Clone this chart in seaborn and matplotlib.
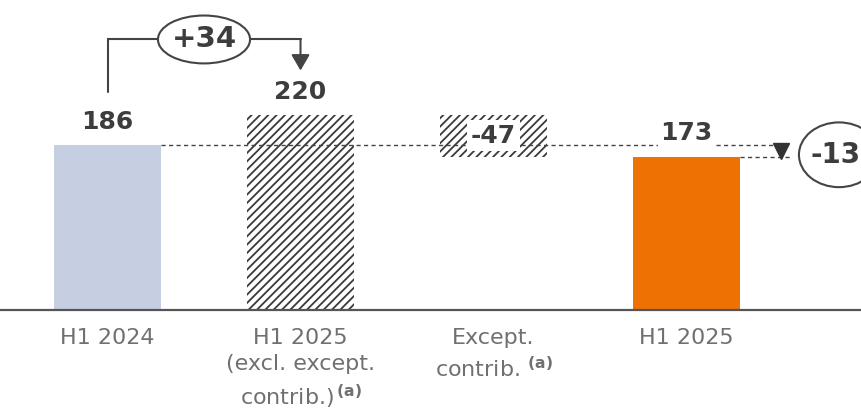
import matplotlib
matplotlib.use("Agg")
import matplotlib.pyplot as plt
import seaborn as sns
import pandas as pd
from matplotlib.patches import Ellipse

# --- data -------------------------------------------------------------
categories = ["H1 2024", "H1 2025 excl.", "Except. contrib.", "H1 2025"]
tick_labels = [
    "H1 2024",
    "H1 2025\n(excl. except.\ncontrib.)$^{\\,\\mathbf{(a)}}$",
    "Except.\ncontrib. $^{\\mathbf{(a)}}$",
    "H1 2025",
]
values = [186, 220, -47, 173]
bar_colors = ["#c5cfe1", "white", "white", "#ee7203"]
hatched = [False, True, True, False]

# floating bar for the exceptional contribution: hangs down from the 220 level
bottoms = [0, 0, values[1] + values[2], 0]
heights = [abs(v) for v in values]
change_vs_prior = values[1] - values[0]      # +34
change_total = values[3] - values[0]         # -13

df = pd.DataFrame({"cat": categories, "height": heights})

# --- style ------------------------------------------------------------
sns.set_theme(style="white")
plt.rcParams["font.family"] = ["DejaVu Sans"]
plt.rcParams["hatch.linewidth"] = 1.3
DARK = "#3d3d3d"
LINE = "#444444"

fig = plt.figure(figsize=(8.61, 4.13), dpi=100)
ax = fig.add_axes([0, 0.2494, 1, 0.7506])

sns.barplot(data=df, x="cat", y="height", hue="cat", palette=bar_colors,
            width=0.555, legend=False, saturation=1, linewidth=0, ax=ax,
            zorder=2)

for patch, b, h in zip(ax.patches, bottoms, hatched):
    patch.set_y(b)
    if h:
        patch.set_hatch("////")
        patch.set_edgecolor("#3a3a3a")
        patch.set_linewidth(0)

ax.set_xlim(-0.557, 3.904)
ax.set_ylim(0, 349.5)
ax.set_xlabel("")
ax.set_ylabel("")
ax.set_yticks([])
ax.set_xticks(range(len(categories)))
ax.set_xticklabels(tick_labels, fontsize=16, color="#707070")
for lbl in ax.get_xticklabels():
    lbl.set_linespacing(1.38)
ax.tick_params(axis="x", length=0, pad=13)
for s in ["top", "left", "right"]:
    ax.spines[s].set_visible(False)
ax.spines["bottom"].set_color("#555555")
ax.spines["bottom"].set_linewidth(1.6)

# --- reference dashed lines -------------------------------------------
half = 0.555 / 2
dash = (0, (3, 2.4))
x_end = 3.536
ax.plot([0 + half, x_end], [values[0], values[0]], color=LINE, lw=1,
        ls=dash, zorder=3)
ax.plot([3 + half, x_end], [values[3], values[3]], color=LINE, lw=1,
        ls=dash, zorder=3)

# --- value labels -----------------------------------------------------
for i in (0, 1, 3):
    top = bottoms[i] + heights[i]
    kw = {}
    if i == 3:
        kw["bbox"] = dict(boxstyle="square,pad=0.1", fc="white", ec="none")
    ax.annotate(f"{values[i]}", xy=(i, top), xytext=(0, 8),
                textcoords="offset points", ha="center", va="bottom",
                fontsize=18, fontweight="bold", color=DARK, zorder=5, **kw)

ax.text(2, bottoms[2] + heights[2] / 2, f"{values[2]:d}",
        ha="center", va="center", fontsize=18, fontweight="bold", color=DARK,
        zorder=5,
        bbox=dict(boxstyle="square,pad=0.15", fc="white", ec="none"))

# --- +34 bracket ------------------------------------------------------
bracket_y = 305
ax.plot([0, 0, 1], [246, bracket_y, bracket_y], color=LINE, lw=1.5,
        zorder=3, solid_joinstyle="miter")
ax.annotate("", xy=(1, 270), xytext=(1, bracket_y),
            arrowprops=dict(arrowstyle="-|>,head_length=0.6,head_width=0.35",
                            mutation_scale=16, color=LINE, lw=1.5,
                            shrinkA=0, shrinkB=0), zorder=3)
ax.add_patch(Ellipse((0.5, bracket_y), 0.477, 54, fc="white", ec=LINE,
                     lw=1.5, zorder=4))
ax.text(0.5, bracket_y, f"{change_vs_prior:+d}", ha="center", va="center",
        fontsize=21, fontweight="bold", color=DARK, zorder=5)

# --- -13 marker -------------------------------------------------------
ax.plot([3.49], [(values[0] + values[3]) / 2], marker="v", ms=12,
        color="#333333", zorder=4, clip_on=False)
ax.add_patch(Ellipse((3.79, 175), 0.415, 73, fc="white", ec=LINE, lw=1.5,
                     zorder=4, clip_on=False))
ax.text(3.77, 175, f"{change_total:+d}", ha="center", va="center",
        fontsize=20, fontweight="bold", color=DARK, zorder=5)

fig.savefig("out.png", dpi=100)
